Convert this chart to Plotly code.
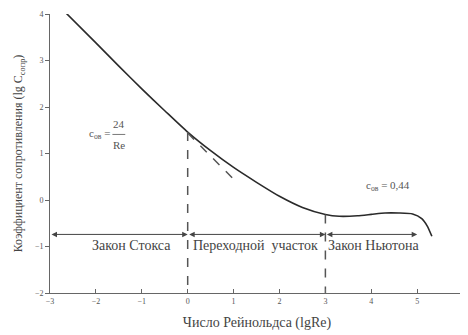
import plotly.graph_objects as go

# drag curve of a sphere, lg C vs lg Re
lg_re = [-2.65, -2.0, -1.5, -1.0, -0.5, 0.0, 0.5, 1.0, 1.5, 2.0, 2.5, 3.0, 3.3,
         3.7, 4.0, 4.3, 4.6, 4.9, 5.1, 5.22, 5.32]
lg_c = [4.02, 3.38, 2.88, 2.39, 1.92, 1.46, 1.06, 0.70, 0.38, 0.08, -0.16, -0.31,
        -0.35, -0.34, -0.31, -0.28, -0.28, -0.30, -0.40, -0.56, -0.78]

# Stokes law continuation (dashed)
stokes_x = [0.0, 1.05]
stokes_y = [1.44, 0.40]

# borders of the regimes
borders_x = [0, 3]
borders_top = [1.46, -0.31]

region_names = ["Закон Стокса", "Переходной  участок", "Закон Ньютона"]
region_x = [-1.22, 1.47, 4.05]
arrow_spans = [(-3, 0), (0, 3), (3, 5)]
arrow_y = -0.74

x_ticks = [-3, -2, -1, 0, 1, 2, 3, 4, 5, 6]
y_ticks = [-2, -1, 0, 1, 2, 3, 4]

FONT = "Liberation Serif, Times New Roman, DejaVu Serif, serif"
INK = "#2a2a2a"

fig = go.Figure()
fig.add_trace(go.Scatter(x=lg_re, y=lg_c, mode="lines",
                         line=dict(color=INK, width=1.6, shape="spline", smoothing=0.6)))
fig.add_trace(go.Scatter(x=stokes_x, y=stokes_y, mode="lines",
                         line=dict(color="#555555", width=1.5, dash="dash")))
for bx, top in zip(borders_x, borders_top):
    fig.add_trace(go.Scatter(x=[bx, bx], y=[top, -2], mode="lines",
                             line=dict(color="#555555", width=1.5, dash="dash")))

annotations = []
for (x0, x1) in arrow_spans:
    annotations.append(dict(x=x1, y=arrow_y, ax=x0, ay=arrow_y, xref="x", yref="y",
                            axref="x", ayref="y", text="", showarrow=True,
                            arrowside="end+start", arrowhead=2, arrowsize=1.1,
                            arrowwidth=1, arrowcolor="#444444"))
for name, rx in zip(region_names, region_x):
    annotations.append(dict(x=rx, y=-0.98, text=name, showarrow=False,
                            font=dict(family=FONT, size=14, color="#444444")))

# formulas
annotations += [
    dict(x=-1.66, y=1.42, text="c<sub>ов</sub> =", showarrow=False, xanchor="right",
         font=dict(family=FONT, size=11, color="#555555")),
    dict(x=-1.5, y=1.63, text="24", showarrow=False,
         font=dict(family=FONT, size=11, color="#555555")),
    dict(x=-1.5, y=1.19, text="Re", showarrow=False,
         font=dict(family=FONT, size=11, color="#555555")),
    dict(x=4.37, y=0.30, text="c<sub>ов</sub> = 0,44", showarrow=False,
         font=dict(family=FONT, size=11, color="#555555")),
]

fig.add_shape(type="line", x0=-1.64, x1=-1.36, y0=1.41, y1=1.41,
              line=dict(color="#555555", width=0.8))

# the page body keeps its 8px browser margin, so the figure is sized to fit
fig.update_layout(
    width=460, height=327,
    margin=dict(l=42, r=4, t=6, b=42),
    paper_bgcolor="white", plot_bgcolor="white",
    showlegend=False,
    font=dict(family=FONT, color="#444444"),
    annotations=annotations,
)
fig.update_xaxes(range=[-3, 6.02], tickvals=x_ticks, ticks="inside", ticklen=4,
                 showgrid=False, zeroline=False, showline=True, linecolor="#666666",
                 tickcolor="#666666", tickfont=dict(family=FONT, size=8, color="#555555"),
                 automargin=False, ticklabeloverflow="allow",
                 title=dict(text="Число Рейнольдса (lgRe)", standoff=12,
                            font=dict(family=FONT, size=14, color="#444444")))
fig.update_yaxes(range=[-2, 4], tickvals=y_ticks, ticks="outside", ticklen=4,
                 showgrid=False, zeroline=False, showline=True, linecolor="#666666",
                 tickcolor="#666666", tickfont=dict(family=FONT, size=8, color="#555555"),
                 automargin=False,
                 title=dict(text="Коэффициент сопротивления (lg C<sub>сопр</sub>)", standoff=9,
                            font=dict(family=FONT, size=12, color="#444444")))

fig.write_html("out.html")
